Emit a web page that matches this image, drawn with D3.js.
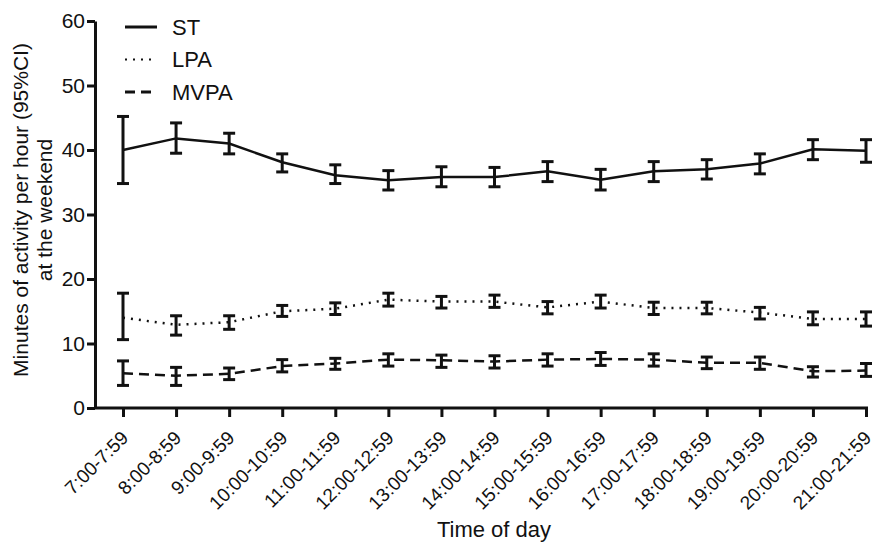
<!DOCTYPE html>
<html>
<head>
<meta charset="utf-8">
<title>Minutes of activity per hour at the weekend</title>
<script src="https://cdn.jsdelivr.net/npm/d3@7"></script>
<style>
    body { margin: 0; background: #fff; }
    text { font-family: "Liberation Sans", Arial, sans-serif; fill: #111; }
</style>
</head>
<body>
<script>
var width = 879, height = 542;

var hours = ["7:00-7:59", "8:00-8:59", "9:00-9:59", "10:00-10:59", "11:00-11:59",
    "12:00-12:59", "13:00-13:59", "14:00-14:59", "15:00-15:59", "16:00-16:59",
    "17:00-17:59", "18:00-18:59", "19:00-19:59", "20:00-20:59", "21:00-21:59"];

// mean, lower and upper 95% CI per hour
var stMean = [40.0, 41.8, 41.0, 38.1, 36.1, 35.3, 35.8, 35.8, 36.7, 35.4, 36.7, 37.0, 37.9, 40.1, 39.9];
var stLow  = [34.8, 39.5, 39.4, 36.6, 34.8, 33.8, 34.3, 34.3, 35.1, 33.8, 35.1, 35.5, 36.3, 38.5, 38.1];
var stHigh = [45.2, 44.2, 42.6, 39.4, 37.7, 36.8, 37.4, 37.3, 38.2, 37.0, 38.2, 38.5, 39.4, 41.6, 41.6];

var lpaMean = [14.0, 12.9, 13.3, 15.0, 15.4, 16.8, 16.5, 16.5, 15.6, 16.5, 15.5, 15.5, 14.8, 13.8, 13.8];
var lpaLow  = [10.6, 11.3, 12.2, 14.2, 14.5, 15.8, 15.5, 15.6, 14.6, 15.5, 14.5, 14.6, 13.8, 12.9, 12.7];
var lpaHigh = [17.8, 14.3, 14.3, 15.9, 16.3, 17.8, 17.3, 17.5, 16.5, 17.5, 16.4, 16.4, 15.6, 14.9, 14.9];

var mvpaMean = [5.4, 5.0, 5.3, 6.5, 6.9, 7.5, 7.4, 7.2, 7.5, 7.6, 7.5, 7.0, 7.0, 5.7, 5.8];
var mvpaLow  = [3.5, 3.5, 4.4, 5.6, 6.0, 6.5, 6.3, 6.2, 6.5, 6.6, 6.5, 6.1, 6.0, 4.8, 4.9];
var mvpaHigh = [7.3, 6.3, 6.2, 7.5, 7.7, 8.4, 8.2, 8.1, 8.4, 8.6, 8.4, 7.9, 7.9, 6.4, 6.9];

var yTicks = [0, 10, 20, 30, 40, 50, 60];
var dashes = [null, "2,6", "10,6"];

var series = [
    {name: "ST", mean: stMean, low: stLow, high: stHigh, dash: dashes[0]},
    {name: "LPA", mean: lpaMean, low: lpaLow, high: lpaHigh, dash: dashes[1]},
    {name: "MVPA", mean: mvpaMean, low: mvpaLow, high: mvpaHigh, dash: dashes[2]}
];

var svg = d3.select("body").append("svg")
    .attr("width", width)
    .attr("height", height);

var x = d3.scalePoint()
    .domain(hours)
    .range([123, 866]);

var y = d3.scaleLinear()
    .domain([0, 60])
    .range([408, 21]);

// y axis
var yAxis = svg.append("g")
    .attr("transform", "translate(95,0)")
    .call(d3.axisLeft(y).tickValues(yTicks).tickSize(8).tickSizeOuter(0));
yAxis.select(".domain").attr("stroke-width", 3).attr("stroke", "#111");
yAxis.selectAll(".tick line").attr("stroke-width", 3).attr("stroke", "#111");
yAxis.selectAll(".tick text")
    .attr("x", -10)
    .attr("font-family", "Liberation Sans, Arial, sans-serif")
    .attr("font-size", 21)
    .style("fill", "#111");

// x axis
var xAxis = svg.append("g")
    .attr("transform", "translate(0,408)")
    .call(d3.axisBottom(x).tickSize(9).tickSizeOuter(0));
xAxis.select(".domain")
    .attr("d", "M95,0H868")
    .attr("stroke-width", 3).attr("stroke", "#111");
xAxis.selectAll(".tick line").attr("stroke-width", 3).attr("stroke", "#111");
xAxis.selectAll(".tick text")
    .attr("font-family", "Liberation Sans, Arial, sans-serif")
    .attr("font-size", 19)
    .style("fill", "#111")
    .attr("text-anchor", "end")
    .attr("dy", null)
    .attr("y", 0)
    .attr("transform", "translate(6,31) rotate(-45)");

// axis titles
svg.append("text")
    .attr("x", 494)
    .attr("y", 537)
    .attr("text-anchor", "middle")
    .style("font-size", "22px")
    .text("Time of day");

var yTitle = svg.append("text")
    .attr("transform", "translate(28,210) rotate(-90)")
    .attr("text-anchor", "middle")
    .style("font-size", "21px");
yTitle.append("tspan").attr("x", 0).attr("dy", 0).text("Minutes of activity per hour (95%CI)");
yTitle.append("tspan").attr("x", 0).attr("dy", 24).text("at the weekend");

// lines
var line = d3.line()
    .x(function (d, i) { return x(hours[i]); })
    .y(function (d) { return y(d); });

series.forEach(function (s) {
    svg.append("path")
        .datum(s.mean)
        .attr("d", line)
        .attr("fill", "none")
        .attr("stroke", "#111")
        .attr("stroke-width", 2.5)
        .attr("stroke-dasharray", s.dash);

    var bars = svg.append("g").selectAll("g")
        .data(s.mean.map(function (m, i) { return i; }))
        .enter().append("g")
        .attr("stroke", "#111")
        .attr("stroke-width", 3);
    bars.append("line")
        .attr("x1", function (i) { return x(hours[i]); })
        .attr("x2", function (i) { return x(hours[i]); })
        .attr("y1", function (i) { return y(s.low[i]); })
        .attr("y2", function (i) { return y(s.high[i]); });
    bars.append("line")
        .attr("x1", function (i) { return x(hours[i]) - 6; })
        .attr("x2", function (i) { return x(hours[i]) + 6; })
        .attr("y1", function (i) { return y(s.low[i]); })
        .attr("y2", function (i) { return y(s.low[i]); });
    bars.append("line")
        .attr("x1", function (i) { return x(hours[i]) - 6; })
        .attr("x2", function (i) { return x(hours[i]) + 6; })
        .attr("y1", function (i) { return y(s.high[i]); })
        .attr("y2", function (i) { return y(s.high[i]); });
});

// legend
var legend = svg.append("g").selectAll("g")
    .data(series)
    .enter().append("g")
    .attr("transform", function (d, i) { return "translate(125," + (27 + i * 32.5) + ")"; });
legend.append("line")
    .attr("x1", 0).attr("x2", 32)
    .attr("stroke", "#111")
    .attr("stroke-width", function (d) { return d.name === "LPA" ? 2 : 3; })
    .attr("stroke-dasharray", function (d) { return d.dash; });
legend.append("text")
    .attr("x", 47)
    .attr("dy", "0.36em")
    .style("font-size", "22px")
    .text(function (d) { return d.name; });
</script>
</body>
</html>
